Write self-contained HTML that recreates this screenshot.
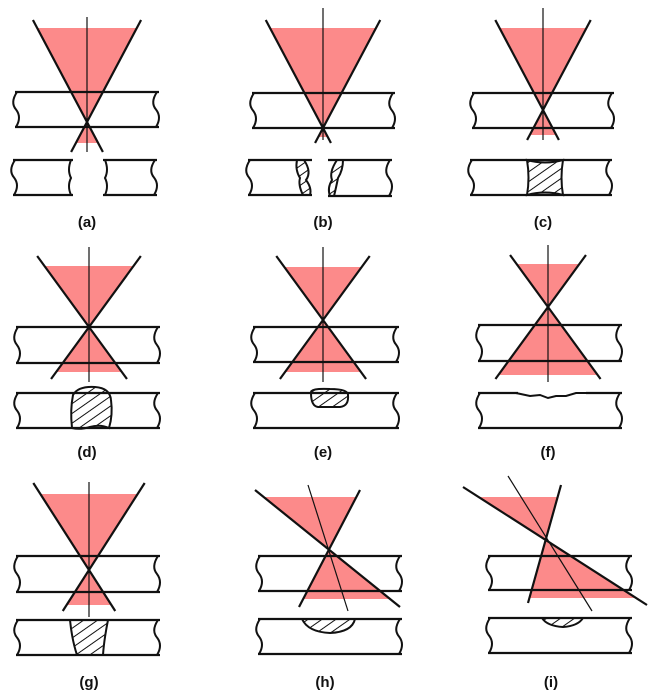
<!DOCTYPE html>
<html><head><meta charset="utf-8"><style>
html,body{margin:0;padding:0;background:#fff;}
svg{display:block;}
text{font-family:"Liberation Sans",sans-serif;font-weight:bold;font-size:15px;text-anchor:middle;fill:#111;}
</style></head><body>
<svg id="s" width="655" height="695" viewBox="0 0 655 695" xmlns="http://www.w3.org/2000/svg">
<defs>
<pattern id="hp" patternUnits="userSpaceOnUse" width="8" height="8" patternTransform="rotate(-35)">
<line x1="0" y1="4" x2="8" y2="4" stroke="#111" stroke-width="1"/>
</pattern>
</defs>
<g id="g"></g>
<text x="87" y="227">(a)</text>
<text x="323" y="227">(b)</text>
<text x="543" y="227">(c)</text>
<text x="87" y="457">(d)</text>
<text x="323" y="457">(e)</text>
<text x="548" y="457">(f)</text>
<text x="89" y="687">(g)</text>
<text x="325" y="687">(h)</text>
<text x="551" y="687">(i)</text>
</svg>
<script>
var G=document.getElementById('g'),out='';
var PINK='#fc8a8a';
function ln(x1,y1,x2,y2,w){out+='<line x1="'+x1+'" y1="'+y1+'" x2="'+x2+'" y2="'+y2+'" stroke="#111" stroke-width="'+w+'"/>';}
function endPath(x,t,b){var h=b-t;return 'M'+x+','+t+' Q'+(x-7)+','+(t+h*0.3)+' '+(x-1)+','+(t+h*0.5)+' Q'+(x+5)+','+(t+h*0.72)+' '+(x-1)+','+b;}
function plate(L,R,t,b,noL,noR){
 ln(L-2,t,R+2,t,2.2);ln(L-2,b,R+2,b,2.2);
 if(!noL)out+='<path d="'+endPath(L,t,b)+'" fill="none" stroke="#111" stroke-width="2"/>';
 if(!noR)out+='<path d="'+endPath(R,t,b)+'" fill="none" stroke="#111" stroke-width="2"/>';
}
function hatch(d){out+='<path d="'+d+'" fill="url(#hp)" stroke="#111" stroke-width="2"/>';}
function xAt(l,y){return l[0]+(l[2]-l[0])*(y-l[1])/(l[3]-l[1]);}
function cone(l1,l2,ax,pt,pb){
 var a1=(l1[2]-l1[0])/(l1[3]-l1[1]),a2=(l2[2]-l2[0])/(l2[3]-l2[1]);
 var py=(l2[0]-l1[0]+a1*l1[1]-a2*l2[1])/(a1-a2);var px=l1[0]+a1*(py-l1[1]);
 out+='<polygon points="'+xAt(l1,pt)+','+pt+' '+xAt(l2,pt)+','+pt+' '+px+','+py+'" fill="'+PINK+'"/>';
 out+='<polygon points="'+px+','+py+' '+xAt(l1,pb)+','+pb+' '+xAt(l2,pb)+','+pb+'" fill="'+PINK+'"/>';
 window._late=(window._late||'')+'<line x1="'+ax[0]+'" y1="'+ax[1]+'" x2="'+ax[2]+'" y2="'+ax[3]+'" stroke="#111" stroke-width="1.2"/>'
 +'<line x1="'+l1[0]+'" y1="'+l1[1]+'" x2="'+l1[2]+'" y2="'+l1[3]+'" stroke="#111" stroke-width="2.2"/>'
 +'<line x1="'+l2[0]+'" y1="'+l2[1]+'" x2="'+l2[2]+'" y2="'+l2[3]+'" stroke="#111" stroke-width="2.2"/>';
}
function sym(cx,py,s,lt,lb,pt,pb,at,ab){
 cone([cx-s*(py-lt),lt,cx+s*(lb-py),lb],[cx+s*(py-lt),lt,cx-s*(lb-py),lb],[cx,at,cx,ab],pt,pb);
}
sym(87,122,0.53,20,152,28,143,17,152);
sym(323,128,0.53,20,143,28,137,8,140);
sym(543,110,0.53,20,140,28,135,8,140);
sym(89,327,0.73,256,379,266,372,247,382);
sym(323,320,0.73,256,379,267,372,247,382);
sym(548,307,0.73,255,379,264,375,245,382);
sym(89,570,0.64,483,611,494,605,482,617);
cone([255,490,400,607],[360,490,299,607],[308,485,348,611],497,599);
cone([463,487,647,605],[561,485,528,603],[508,476,592,611],497,598);
plate(17,157,92,127);plate(254,393,93,128);plate(474,612,93,128);
plate(18,158,327,363);plate(255,397,327,362);plate(480,620,325,361);
plate(18,158,556,592);plate(260,400,556,591);plate(490,630,556,590);
out+=window._late;
plate(15,71,160,195,false,true);out+='<path d="M71,160 Q67,170 71,178 Q67,186 71,195" fill="none" stroke="#111" stroke-width="2"/>';
plate(105,155,160,195,true,false);out+='<path d="M105,160 Q109,170 105,178 Q109,186 105,195" fill="none" stroke="#111" stroke-width="2"/>';
plate(250,310,160,195,false,true);hatch('M297,160 L304,160 Q312,172 306,180 Q312,188 310,195 L303,195 Q298,185 300,178 Q295,170 297,160 Z');
plate(330,390,160,196,true,false);hatch('M343,160 L337,160 Q329,172 332,180 Q327,188 330,196 L334,196 Q336,188 338,178 Q343,170 343,160 Z');
plate(472,610,160,195);hatch('M527,160 Q545,165 563,160 Q560,178 563,195 Q545,190 527,195 Q530,178 527,160 Z');
plate(18,158,393,428);hatch('M72,428 Q70,410 73,395 Q78,386 95,387 Q110,388 111,400 Q113,415 109,428 Q100,424 90,427 Q80,430 72,428 Z');
plate(255,397,393,428);hatch('M311,393 Q310,388 330,389 Q348,389 348,395 Q349,406 340,407 L318,407 Q311,406 311,393 Z');
plate(480,620,393,428);
out+='<rect x="518" y="390" width="68" height="5" fill="#fff"/><path d="M516,393 L530,396 L540,395 L548,398 L556,396 L566,396 L576,393 L588,393" fill="none" stroke="#111" stroke-width="2"/>';
plate(18,158,620,655);hatch('M70,620 L108,620 Q104,640 103,655 L77,655 Q72,640 70,620 Z');
plate(260,400,619,654);hatch('M302,619 L355,619 Q352,632 330,633 Q308,632 302,619 Z');
plate(490,630,618,653);hatch('M542,618 L583,618 Q578,626 563,627 Q547,626 542,618 Z');
G.innerHTML=out;
</script>
</body></html>
